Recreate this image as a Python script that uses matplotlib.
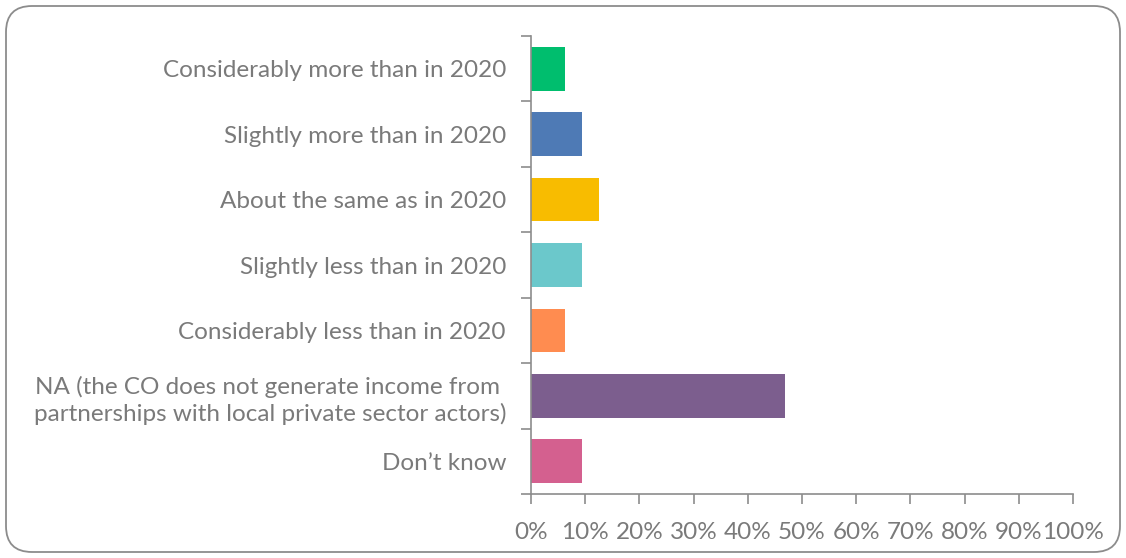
import matplotlib
matplotlib.use("Agg")
import matplotlib.pyplot as plt
from matplotlib.patches import FancyBboxPatch
from matplotlib.ticker import FixedLocator, PercentFormatter

categories = [
    "Considerably more than in 2020",
    "Slightly more than in 2020",
    "About the same as in 2020",
    "Slightly less than in 2020",
    "Considerably less than in 2020",
    "NA (the CO does not generate income from \npartnerships with local private sector actors)",
    "Don\u2019t know",
]
shares = [6.25, 9.375, 12.5, 9.375, 6.25, 46.875, 9.375]
bar_colors = ["#00BE6E", "#4E7AB5", "#F8BC00", "#6BC8CB", "#FF8C50", "#7C5E8E", "#D4608F"]
x_ticks = list(range(0, 101, 10))

text_gray = "#7a7a7a"
axis_gray = "#8c8c8c"

plt.rcParams['font.family'] = ['Lato', 'DejaVu Sans']

fig = plt.figure(figsize=(11.26, 5.58), dpi=100)

# rounded frame drawn in pixel units on a background axes
bg = fig.add_axes([0, 0, 1, 1])
bg.set_xlim(0, 1126)
bg.set_ylim(0, 558)
bg.axis("off")
frame = FancyBboxPatch((6, 6), 1114, 546, boxstyle="round,pad=0,rounding_size=26",
                       facecolor="white", edgecolor=axis_gray, linewidth=1.3)
bg.add_patch(frame)

ax = fig.add_axes([531 / 1126, 1 - 494 / 558, (1073 - 531) / 1126, (494 - 36) / 558])
ax.patch.set_alpha(0)
pos = list(range(len(categories)))
ax.barh(pos, shares, height=0.67, color=bar_colors)
ax.set_ylim(len(categories) - 0.5, -0.5)
ax.set_xlim(0, 100)

ax.set_yticks(pos)
ax.set_yticklabels(categories, fontsize=17.5, color=text_gray, multialignment="right",
                   linespacing=1.3)
ax.yaxis.set_minor_locator(FixedLocator([p - 0.5 for p in pos] + [len(pos) - 0.5]))
ax.tick_params(axis="y", which="major", length=0, pad=18)
ax.tick_params(axis="y", which="minor", length=7, color=axis_gray, width=1.2)

ax.set_xticks(x_ticks)
ax.xaxis.set_major_formatter(PercentFormatter(decimals=0))
ax.tick_params(axis="x", length=7, color=axis_gray, width=1.2, labelsize=17.5,
               labelcolor=text_gray, pad=13)

for side in ["top", "right"]:
    ax.spines[side].set_visible(False)
for side in ["left", "bottom"]:
    ax.spines[side].set_color(axis_gray)
    ax.spines[side].set_linewidth(1.2)

fig.savefig("out.png", dpi=100)
